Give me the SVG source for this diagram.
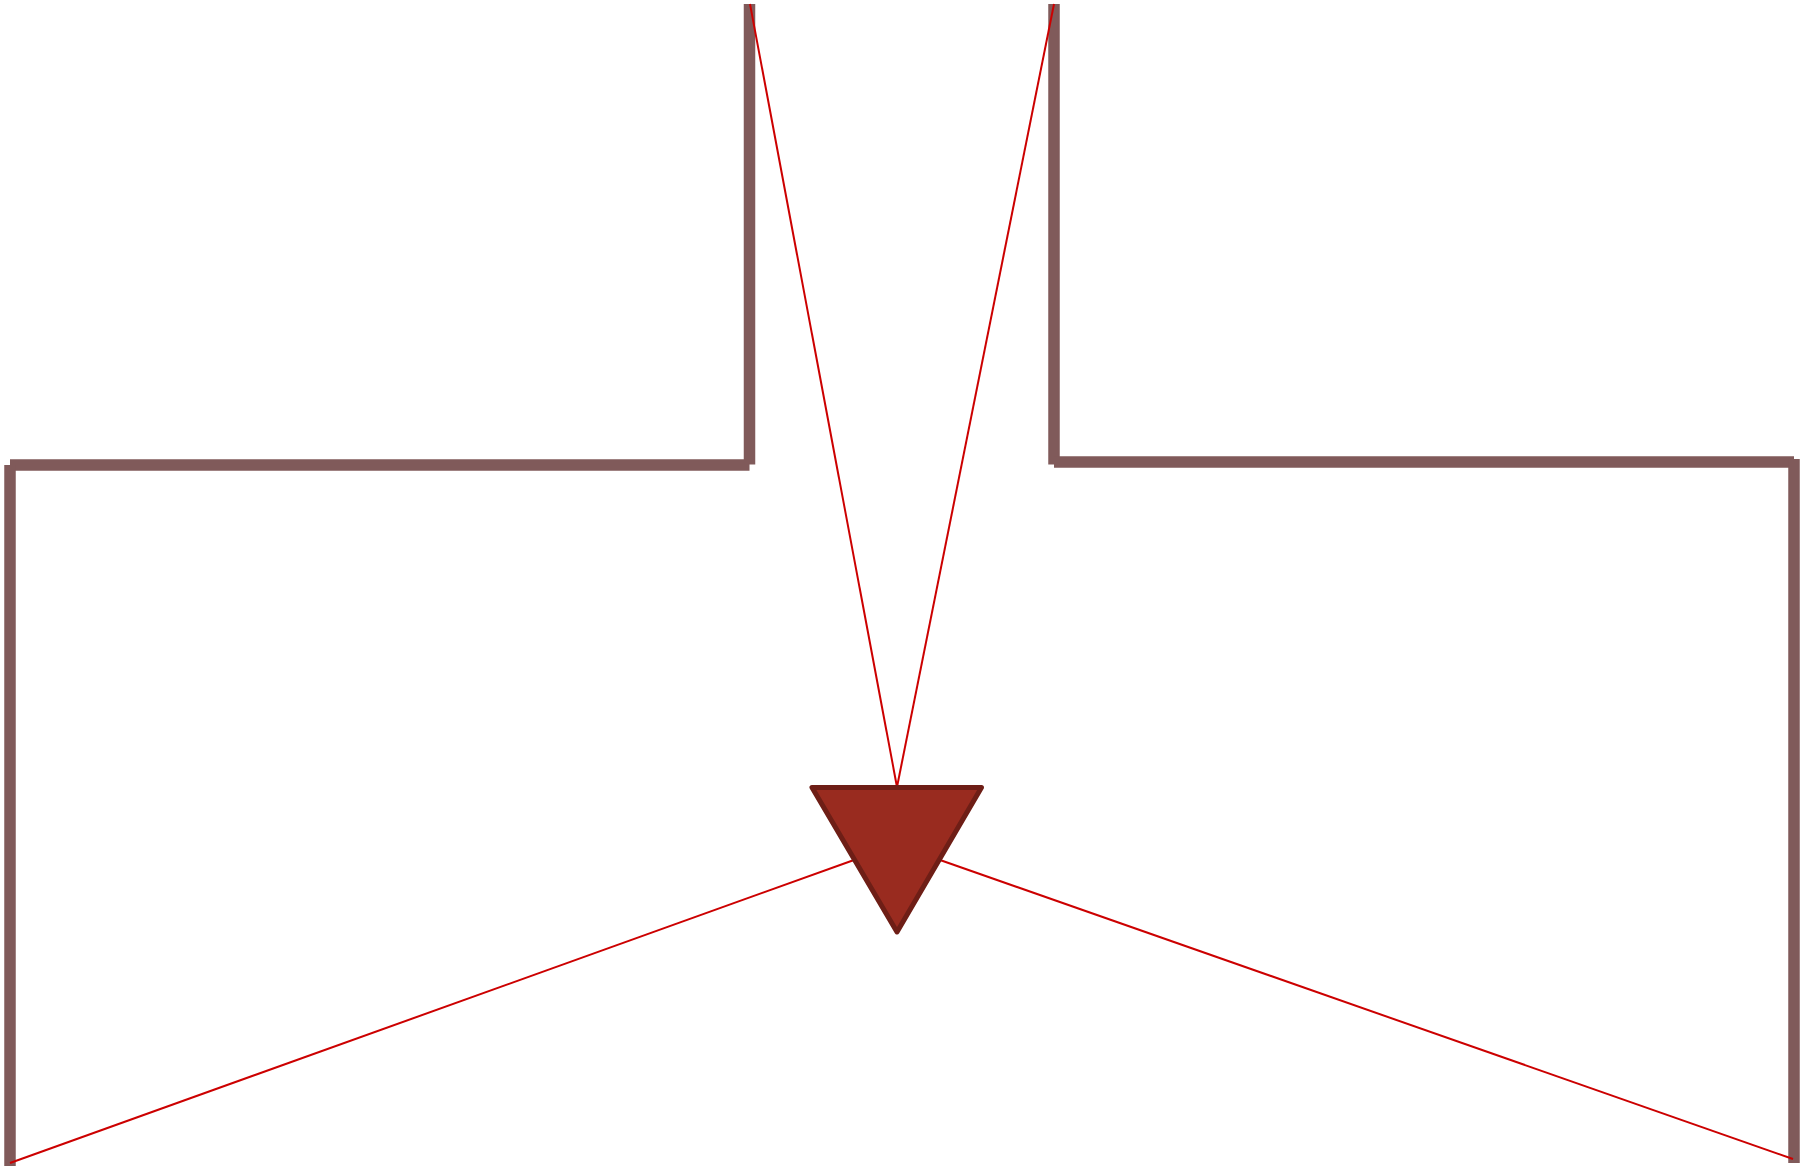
<svg xmlns="http://www.w3.org/2000/svg" width="1801" height="1166" viewBox="0 0 1801 1166">
<style>
.wall{stroke:#805a5a;stroke-width:11.5;fill:none;stroke-linecap:butt}
.wire{stroke:#cc0000;stroke-width:2;fill:none}
.tri{fill:#992b1f;stroke:#6e1e16;stroke-width:5;stroke-linejoin:round}
</style>
<rect width="1801" height="1166" fill="#ffffff"/>
<g id="walls">
<line class="wall" x1="749.5" y1="4" x2="749.5" y2="464.5"/>
<line class="wall" x1="10" y1="465" x2="749.5" y2="465"/>
<line class="wall" x1="10" y1="465" x2="10" y2="1166"/>
<line class="wall" x1="1054" y1="4" x2="1054" y2="464.5"/>
<line class="wall" x1="1054" y1="462" x2="1794" y2="462"/>
<line class="wall" x1="1794" y1="459" x2="1794" y2="1163"/>
</g>
<g id="connectors">
<line class="wire" x1="750" y1="4" x2="897" y2="787"/>
<line class="wire" x1="1054" y1="4" x2="897" y2="787"/>
<line class="wire" x1="10" y1="1163" x2="854" y2="860"/>
<line class="wire" x1="1793" y1="1159" x2="940" y2="860"/>
</g>
<g id="node-triangle">
<polygon class="tri" points="812,787.5 981.5,787.5 897,932"/>
</g>
</svg>
